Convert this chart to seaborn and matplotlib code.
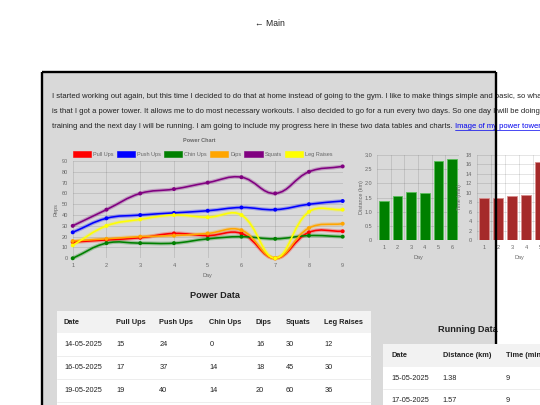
import numpy as np
import pandas as pd
import matplotlib
matplotlib.use('Agg')
import matplotlib.pyplot as plt
import seaborn as sns
from matplotlib.patches import Rectangle, PathPatch
from matplotlib.path import Path
from matplotlib.lines import Line2D

# ---------------- data ----------------
days = [1, 2, 3, 4, 5, 6, 7, 8, 9]
pull_ups = [15, 17, 19, 23, 21, 23, 0, 24, 25]
push_ups = [24, 37, 40, 42, 44, 47, 45, 50, 53]
chin_ups = [0, 14, 14, 14, 18, 20, 18, 21, 20]
dips = [16, 18, 20, 21, 23, 26, 0, 28, 32]
squats = [30, 45, 60, 64, 70, 75, 60, 80, 85]
leg_raises = [12, 30, 36, 40, 38, 40, 0, 43, 45]
series_names = ['Pull Ups', 'Push Ups', 'Chin Ups', 'Dips', 'Squats', 'Leg Raises']
series_colors = ['red', 'blue', 'green', 'orange', 'purple', 'yellow']
power_dates = ['14-05-2025', '16-05-2025', '19-05-2025']
power_yticks = [0, 10, 20, 30, 40, 50, 60, 70, 80, 90]

run_days = [1, 2, 3, 4, 5, 6]
distance_km = [1.38, 1.57, 1.68, 1.67, 2.78, 2.85]
time_min = [9, 9, 9.4, 9.5, 16.6, 17]
run_dates = ['15-05-2025', '17-05-2025']
dist_yticks = [0, 0.5, 1.0, 1.5, 2.0, 2.5, 3.0]
time_yticks = [0, 2, 4, 6, 8, 10, 12, 14, 16, 18]

paragraph = [
    "I started working out again, but this time I decided to do that at home instead of going to the gym. I like to make things simple and basic, so what I did",
    "is that I got a power tower. It allows me to do most necessary workouts. I also decided to go for a run every two days. So one day I will be doing power",
    "training and the next day I will be running. I am going to include my progress here in these two data tables and charts.",
]
link_text = "Image of my power tower"

# ---------------- setup ----------------
sns.set_theme(style='white')
plt.rcParams['font.family'] = ['Liberation Sans', 'DejaVu Sans']

W, H = 540, 405
fig = plt.figure(figsize=(W / 100, H / 100), dpi=100)
fig.patch.set_facecolor('white')


def fx(x):
    return x / W


def fy(y):
    return 1 - y / H


def arect(x0, y0, x1, y1):
    return [x0 / W, 1 - y1 / H, (x1 - x0) / W, (y1 - y0) / H]


def prect(x0, y0, x1, y1, **kw):
    r = Rectangle((fx(x0), fy(y1)), (x1 - x0) / W, (y1 - y0) / H,
                  transform=fig.transFigure, **kw)
    fig.add_artist(r)
    return r


def pline(xs, ys, **kw):
    l = Line2D([fx(x) for x in xs], [fy(y) for y in ys], transform=fig.transFigure, **kw)
    fig.add_artist(l)
    return l


PANEL = '#d9d9d9'
GRID = (0, 0, 0, 0.12)
TICKC = '#666666'
TXT = '#222222'
TFS = 4.0

# grey panel
prect(43, 72, 496, 405, facecolor=PANEL, edgecolor='none', zorder=-5)
# borders
pline([42.2, 42.2], [72, 405], color='black', lw=1.7, zorder=4, solid_capstyle='butt')
pline([42.2, 496.2], [72.2, 72.2], color='black', lw=1.7, zorder=4, solid_capstyle='butt')
pline([496.2, 496.2], [72, 405], color='black', lw=1.7, zorder=4, solid_capstyle='butt')

# header link
fig.text(fx(270), fy(24), '\u2190 Main', ha='center', va='center', fontsize=6.2, color=TXT)

# paragraph
PFS = 5.46
ys = [96, 111.5, 127]
ptexts = []
for s, yy in zip(paragraph, ys):
    ptexts.append(fig.text(fx(52), fy(yy), s, ha='left', va='center', fontsize=PFS, color=TXT, zorder=3))
fig.canvas.draw()
rend = fig.canvas.get_renderer()
bb = ptexts[2].get_window_extent(rend)
lx = bb.x1 + 2.5
lt = fig.text(lx / W, fy(127), link_text, ha='left', va='center', fontsize=PFS, color='#0000ee', zorder=3)
fig.canvas.draw()
lbb = lt.get_window_extent(rend)
pline([lbb.x0, lbb.x1], [H - lbb.y0 - 0.3, H - lbb.y0 - 0.3], color='#0000ee', lw=0.5, zorder=3)


def style_axis(ax):
    ax.set_facecolor('none')
    for sp in ax.spines.values():
        sp.set_visible(False)
    ax.tick_params(axis='both', which='both', colors=GRID, labelcolor=TICKC,
                   labelsize=TFS, width=0.6, length=2.6, pad=1.0)


def grid(ax, **kw):
    ax.grid(True, color='black', alpha=0.12, lw=0.6, **kw)


# ---------------- power chart ----------------
ax = fig.add_axes(arect(72.7, 161, 342.7, 258.3))
style_axis(ax)
ax.set_xlim(1, 9)
ax.set_ylim(0, 90)
ax.set_xticks(days)
ax.set_yticks(power_yticks)
grid(ax)
ax.set_axisbelow(True)

series_vals = [pull_ups, push_ups, chin_ups, dips, squats, leg_raises]
df = pd.DataFrame({
    'Day': np.tile(days, len(series_names)),
    'Reps': np.concatenate(series_vals),
    'Exercise': np.repeat(series_names, len(days)),
})

sx = 270.0 / 8
sy = 97.3 / 90


def spline_path(xs, ys, t=0.4):
    px = np.asarray(xs, float) * sx
    py = np.asarray(ys, float) * sy
    n = len(px)
    prevs, nexts = [], []
    for i in range(n):
        a = max(i - 1, 0)
        c = min(i + 1, n - 1)
        d01 = np.hypot(px[i] - px[a], py[i] - py[a])
        d12 = np.hypot(px[c] - px[i], py[c] - py[i])
        tot = d01 + d12
        s01 = d01 / tot if tot else 0
        s12 = d12 / tot if tot else 0
        fa, fb = t * s01, t * s12
        pv = [px[i] - fa * (px[c] - px[a]), py[i] - fa * (py[c] - py[a])]
        nx = [px[i] + fb * (px[c] - px[a]), py[i] + fb * (py[c] - py[a])]
        for p in (pv, nx):
            p[0] = min(max(p[0], 1 * sx), 9 * sx)
            p[1] = min(max(p[1], 0), 90 * sy)
        prevs.append(pv)
        nexts.append(nx)
    verts = [(px[0] / sx, py[0] / sy)]
    codes = [Path.MOVETO]
    for i in range(1, n):
        verts += [(nexts[i - 1][0] / sx, nexts[i - 1][1] / sy),
                  (prevs[i][0] / sx, prevs[i][1] / sy),
                  (px[i] / sx, py[i] / sy)]
        codes += [Path.CURVE4] * 3
    return Path(verts, codes)


for name, col, vals in zip(series_names, series_colors, series_vals):
    path = spline_path(days, vals)
    ax.add_patch(PathPatch(path, facecolor='none', edgecolor=col, lw=2.8, alpha=0.28, clip_on=False, zorder=2))
    ax.add_patch(PathPatch(path, facecolor='none', edgecolor=col, lw=1.15, clip_on=False, zorder=3))

sns.scatterplot(data=df, x='Day', y='Reps', hue='Exercise', palette=dict(zip(series_names, series_colors)),
                s=8, linewidth=0, legend=False, ax=ax, zorder=4, clip_on=False)
ax.set_xlabel('Day', fontsize=TFS, color=TICKC)
ax.set_ylabel('Reps', fontsize=TFS, color=TICKC)
ax.xaxis.set_label_coords(0.5, -(275 - 258.3) / 97.3)
ax.xaxis.label.set_va('center')
ax.yaxis.set_label_coords((55.7 - 72.7) / 270, 0.5)
ax.yaxis.label.set_va('center')

fig.text(fx(199), fy(140.5), 'Power Chart', ha='center', va='center', fontsize=TFS, fontweight='bold', color=TICKC)

# legend
bx = 73.0
for name, col in zip(series_names, series_colors):
    prect(bx, 151, bx + 18.3, 157.3, facecolor=col, edgecolor=col, lw=0.4, zorder=3)
    t = fig.text(fx(bx + 20.3), fy(154.3), name, ha='left', va='center', fontsize=TFS, color=TICKC)
    fig.canvas.draw()
    tb = t.get_window_extent(rend)
    bx = tb.x1 + 3.0

# ---------------- distance chart ----------------
ax2 = fig.add_axes(arect(377, 155, 459, 240))
style_axis(ax2)
sns.barplot(x=run_days, y=distance_km, color='green', saturation=1, width=0.72,
            edgecolor=(0.35, 0.75, 0.35), linewidth=0.6, ax=ax2, zorder=3)
ax2.set_xlim(-0.5, 5.5)
ax2.set_ylim(0, 3.0)
ax2.set_yticks(dist_yticks)
ax2.set_yticklabels(['0'] + [f'{v:.1f}' for v in dist_yticks[1:]])
ax2.set_xticks(np.arange(len(run_days)) - 0.5, minor=True)
ax2.set_xticks(np.arange(len(run_days)))
ax2.set_xticklabels([str(d) for d in run_days])
ax2.tick_params(axis='x', which='major', length=0, pad=3.5)
ax2.tick_params(axis='x', which='minor', length=2.6)
grid(ax2, which='minor', axis='x')
grid(ax2, which='major', axis='y')
ax2.axvline(5.5, color='black', alpha=0.12, lw=0.6)
ax2.set_axisbelow(True)
ax2.set_xlabel('Day', fontsize=TFS, color=TICKC)
ax2.set_ylabel('Distance (km)', fontsize=TFS, color=TICKC)
ax2.xaxis.set_label_coords(0.5, -(257.3 - 240) / 85)
ax2.xaxis.label.set_va('center')
ax2.yaxis.set_label_coords((361.5 - 377) / 82, 0.5)
ax2.yaxis.label.set_va('center')

# ---------------- time chart ----------------
ax3 = fig.add_axes(arect(477, 155, 561, 240))
style_axis(ax3)
sns.barplot(x=run_days, y=time_min, color='#a52a2a', saturation=1, width=0.72,
            edgecolor=(0.85, 0.55, 0.55), linewidth=0.6, ax=ax3, zorder=3)
ax3.set_xlim(-0.5, 5.5)
ax3.set_ylim(0, 18)
ax3.set_yticks(time_yticks)
ax3.set_xticks(np.arange(len(run_days)) - 0.5, minor=True)
ax3.set_xticks(np.arange(len(run_days)))
ax3.set_xticklabels([str(d) for d in run_days])
ax3.tick_params(axis='x', which='major', length=0, pad=3.5)
ax3.tick_params(axis='x', which='minor', length=2.6)
grid(ax3, which='minor', axis='x')
grid(ax3, which='major', axis='y')
ax3.set_axisbelow(True)
ax3.set_xlabel('Day', fontsize=TFS, color=TICKC)
ax3.set_ylabel('Time (min)', fontsize=TFS, color=TICKC)
ax3.xaxis.set_label_coords(0.5, -(257.3 - 240) / 85)
ax3.xaxis.label.set_va('center')
ax3.yaxis.set_label_coords((460 - 477) / 84, 0.5)
ax3.yaxis.label.set_va('center')

# ---------------- power table ----------------
TFS2 = 5.35
fig.text(fx(215), fy(296), 'Power Data', ha='center', va='center', fontsize=6.6, fontweight='bold', color=TXT)
cols_x = [64, 116, 159.3, 209.3, 256, 285.7, 324.3]
headers = ['Date'] + series_names
prect(57.3, 311, 371, 333, facecolor='#f2f2f2', edgecolor='none', zorder=5)
prect(57.3, 333, 371, 406, facecolor='white', edgecolor='none', zorder=5)
for h, x in zip(headers, cols_x):
    fig.text(fx(x), fy(322), h, ha='left', va='center', fontsize=TFS2, fontweight='bold', color=TXT, zorder=6)
row_y = [344.5, 367.5, 390]
for i, d in enumerate(power_dates):
    vals = [d] + [str(v[i]) for v in series_vals]
    for v, x in zip(vals, cols_x):
        fig.text(fx(x), fy(row_y[i]), v, ha='left', va='center', fontsize=TFS2, color=TXT, zorder=6)
for yy in [356, 379, 401.7]:
    pline([57.3, 371], [yy, yy], color='#e6e6e6', lw=0.5, zorder=6)

# ---------------- running table ----------------
fig.text(fx(467.5), fy(329.5), 'Running Data', ha='center', va='center', fontsize=6.6, fontweight='bold', color=TXT, zorder=3)
prect(383.3, 344.3, 545, 366.7, facecolor='#f2f2f2', edgecolor='none', zorder=5)
prect(383.3, 366.7, 545, 406, facecolor='white', edgecolor='none', zorder=5)
rcols_x = [391, 442.7, 506]
for h, x in zip(['Date', 'Distance (km)', 'Time (min)'], rcols_x):
    fig.text(fx(x), fy(355.5), h, ha='left', va='center', fontsize=TFS2, fontweight='bold', color=TXT, zorder=6)
rrow_y = [378.5, 400]
for i, d in enumerate(run_dates):
    vals = [d, f'{distance_km[i]:g}', f'{time_min[i]:g}']
    for v, x in zip(vals, rcols_x):
        fig.text(fx(x), fy(rrow_y[i]), v, ha='left', va='center', fontsize=TFS2, color=TXT, zorder=6)
pline([383.3, 545], [389, 389], color='#e6e6e6', lw=0.5, zorder=6)

fig.savefig('out.png', dpi=100)
